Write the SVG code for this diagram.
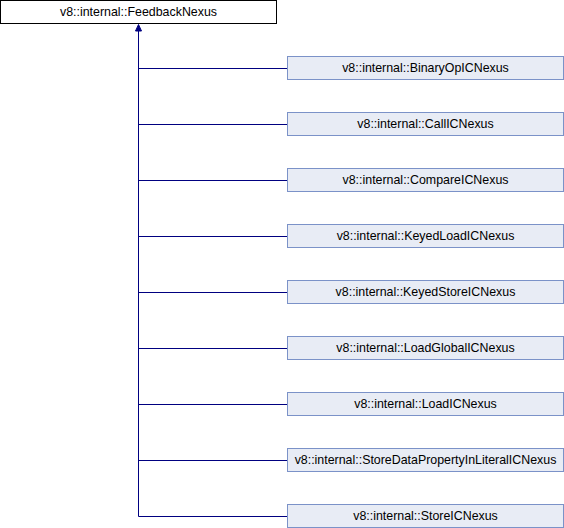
<svg xmlns="http://www.w3.org/2000/svg" width="564" height="528" viewBox="0 0 564 528">
<style>
.base rect{fill:#ffffff;stroke:#000000;stroke-width:1}
.node rect{fill:#e8ecf5;stroke:#7b92c8;stroke-width:1}
text{font-family:"Liberation Sans",Arial,sans-serif;font-size:12.4px;fill:#000000;text-anchor:middle}
.edges path{fill:none;stroke:#000080;stroke-width:1}
</style>
<g id="FeedbackNexus" class="base"><rect x="0.5" y="0.5" width="276" height="23"/><text x="138.5" y="16">v8::internal::FeedbackNexus</text></g>
<g class="edges">
<path d="M138.5,30V516.5"/>
<path d="M138.5,68.5H287M138.5,124.5H287M138.5,180.5H287M138.5,236.5H287M138.5,292.5H287M138.5,348.5H287M138.5,404.5H287M138.5,460.5H287M138.5,516.5H287"/>
<polygon points="138.5,24.5 135.5,31 141.5,31" fill="#000080" stroke="#000080" stroke-width="1"/>
</g>
<g id="BinaryOpICNexus" class="node"><rect x="287.5" y="56.5" width="276" height="23"/><text x="425.5" y="72">v8::internal::BinaryOpICNexus</text></g>
<g id="CallICNexus" class="node"><rect x="287.5" y="112.5" width="276" height="23"/><text x="425.5" y="128">v8::internal::CallICNexus</text></g>
<g id="CompareICNexus" class="node"><rect x="287.5" y="168.5" width="276" height="23"/><text x="425.5" y="184">v8::internal::CompareICNexus</text></g>
<g id="KeyedLoadICNexus" class="node"><rect x="287.5" y="224.5" width="276" height="23"/><text x="425.5" y="240">v8::internal::KeyedLoadICNexus</text></g>
<g id="KeyedStoreICNexus" class="node"><rect x="287.5" y="280.5" width="276" height="23"/><text x="425.5" y="296">v8::internal::KeyedStoreICNexus</text></g>
<g id="LoadGlobalICNexus" class="node"><rect x="287.5" y="336.5" width="276" height="23"/><text x="425.5" y="352">v8::internal::LoadGlobalICNexus</text></g>
<g id="LoadICNexus" class="node"><rect x="287.5" y="392.5" width="276" height="23"/><text x="425.5" y="408">v8::internal::LoadICNexus</text></g>
<g id="StoreDataPropertyInLiteralICNexus" class="node"><rect x="287.5" y="448.5" width="276" height="23"/><text x="425.5" y="464">v8::internal::StoreDataPropertyInLiteralICNexus</text></g>
<g id="StoreICNexus" class="node"><rect x="287.5" y="504.5" width="276" height="23"/><text x="425.5" y="520">v8::internal::StoreICNexus</text></g>
</svg>
